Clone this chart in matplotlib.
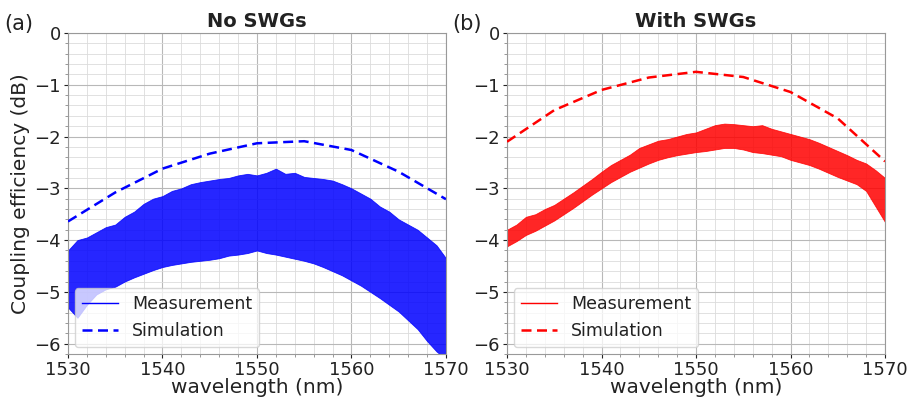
import numpy as np
import matplotlib
matplotlib.use("Agg")
import matplotlib.pyplot as plt
from matplotlib.lines import Line2D
from matplotlib.ticker import MultipleLocator

# ---- data ----
wl = list(range(1530, 1571))  # nm, 1 nm steps for measured envelopes

blue_upper = [-4.20, -4.00, -3.95, -3.85, -3.75, -3.70, -3.55, -3.45, -3.30, -3.20,
              -3.15, -3.05, -3.00, -2.92, -2.88, -2.85, -2.82, -2.80, -2.75, -2.72,
              -2.75, -2.70, -2.62, -2.72, -2.70, -2.78, -2.80, -2.82, -2.85, -2.92,
              -3.00, -3.10, -3.20, -3.35, -3.45, -3.60, -3.70, -3.80, -3.95, -4.10,
              -4.35]
blue_lower = [-5.30, -5.50, -5.25, -5.05, -4.95, -4.90, -4.80, -4.72, -4.65, -4.58,
              -4.52, -4.48, -4.45, -4.42, -4.40, -4.38, -4.35, -4.30, -4.28, -4.25,
              -4.20, -4.25, -4.28, -4.32, -4.36, -4.40, -4.45, -4.52, -4.60, -4.68,
              -4.78, -4.88, -5.00, -5.12, -5.25, -5.38, -5.55, -5.72, -5.95, -6.15,
              -6.30]

red_upper = [-3.80, -3.70, -3.55, -3.50, -3.40, -3.32, -3.20, -3.08, -2.95, -2.82,
             -2.68, -2.55, -2.45, -2.35, -2.22, -2.15, -2.08, -2.05, -2.00, -1.95,
             -1.92, -1.85, -1.78, -1.75, -1.76, -1.78, -1.80, -1.78, -1.85, -1.90,
             -1.95, -2.00, -2.05, -2.12, -2.20, -2.28, -2.36, -2.45, -2.52, -2.65,
             -2.80]
red_lower = [-4.12, -4.02, -3.90, -3.82, -3.72, -3.62, -3.50, -3.38, -3.25, -3.12,
             -3.00, -2.88, -2.78, -2.68, -2.60, -2.52, -2.45, -2.40, -2.36, -2.33,
             -2.30, -2.28, -2.25, -2.22, -2.22, -2.25, -2.30, -2.32, -2.35, -2.38,
             -2.45, -2.50, -2.55, -2.62, -2.70, -2.78, -2.85, -2.92, -3.05, -3.35,
             -3.65]

sim_wl = [1530, 1535, 1540, 1545, 1550, 1555, 1560, 1565, 1570]
sim_no_swg = [-3.64, -3.08, -2.62, -2.33, -2.13, -2.09, -2.26, -2.68, -3.21]
sim_swg = [-2.10, -1.49, -1.10, -0.86, -0.75, -0.85, -1.14, -1.65, -2.48]

titles = ["No SWGs", "With SWGs"]
letters = ["(a)", "(b)"]
xticks = [1530, 1540, 1550, 1560, 1570]
yticks = [0, -1, -2, -3, -4, -5, -6]

# ---- figure ----
fig = plt.figure(figsize=(9.09, 4.0), dpi=100)
ax1 = fig.add_axes([0.0748, 0.115, 0.4158, 0.8025])
ax2 = fig.add_axes([0.5578, 0.115, 0.4158, 0.8025])

txtc = "#222222"
panels = [
    (ax1, blue_upper, blue_lower, sim_no_swg, "#0000ff"),
    (ax2, red_upper, red_lower, sim_swg, "#ff0000"),
]
for i, (ax, up, lo, sim, col) in enumerate(panels):
    ax.fill_between(wl, lo, up, color=col, alpha=0.85, lw=0.6, zorder=2)
    ax.plot(sim_wl, sim, color=col, ls=(0, (4, 2.2)), lw=1.8, zorder=3)
    ax.set_xlim(1530, 1570)
    ax.set_ylim(-6.2, 0)
    ax.set_xticks(xticks)
    ax.set_yticks(yticks)
    ax.xaxis.set_minor_locator(MultipleLocator(2))
    ax.yaxis.set_minor_locator(MultipleLocator(0.2))
    ax.grid(True, which="major", color="#b8b8b8", lw=0.8, zorder=0)
    ax.grid(True, which="minor", color="#dcdcdc", lw=0.6, zorder=0)
    ax.set_axisbelow(True)
    ax.tick_params(labelsize=13, colors=txtc, length=3, width=0.8, pad=2)
    ax.tick_params(which="minor", length=2, colors="#888888")
    for s in ax.spines.values():
        s.set_color("#999999")
    ax.set_xlabel("wavelength (nm)", fontsize=14.5, color=txtc, labelpad=-1)
    ax.set_title(titles[i], fontsize=14, fontweight="bold", color=txtc, pad=4)
    handles = [Line2D([], [], color=col, lw=1.0),
               Line2D([], [], color=col, ls=(0, (4, 2.2)), lw=1.8)]
    leg = ax.legend(handles, ["Measurement", "Simulation"], loc="lower left",
                    fontsize=12.5, framealpha=0.75, handlelength=2.1,
                    handletextpad=0.8, borderaxespad=0.4)
    for t in leg.get_texts():
        t.set_color(txtc)

ax1.set_ylabel("Coupling efficiency (dB)", fontsize=14.5, color=txtc, labelpad=3)
fig.text(0.005, 0.925, letters[0], fontsize=15, color=txtc)
fig.text(0.497, 0.925, letters[1], fontsize=15, color=txtc)

fig.savefig("out.png", dpi=100)
